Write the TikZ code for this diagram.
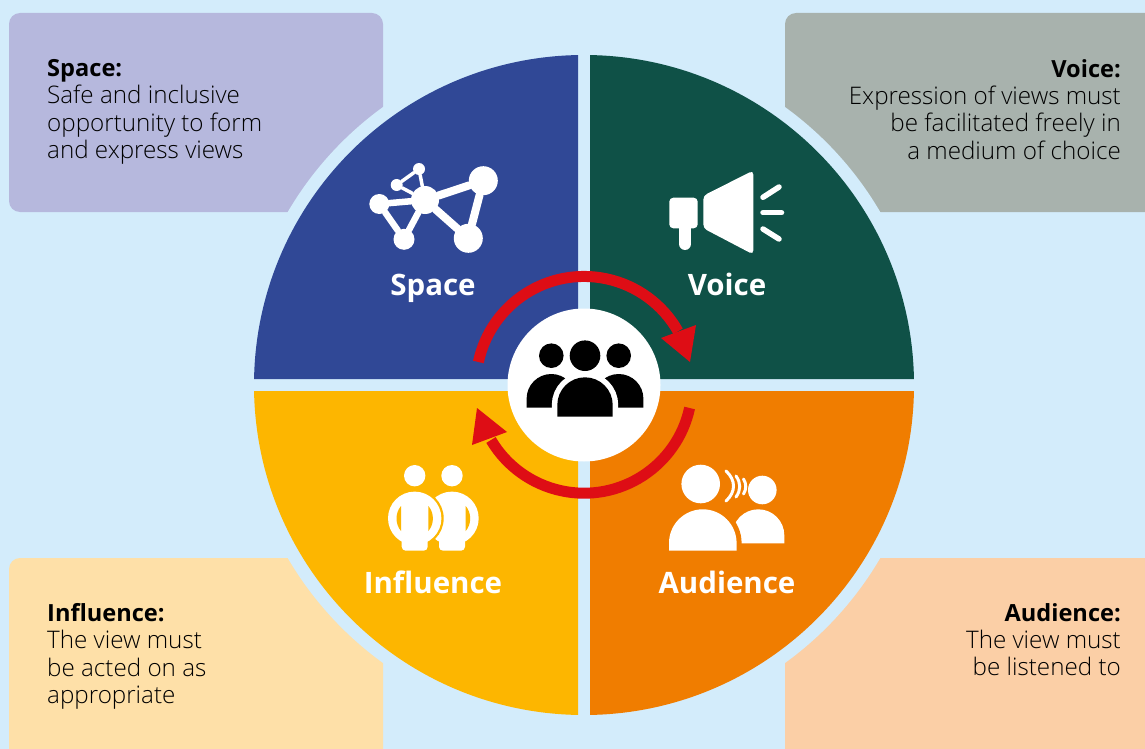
\documentclass[tikz,border=0pt]{standalone}
\usepackage{fontspec}
\setmainfont{Open Sans}[UprightFont=* Light, BoldFont=* Bold]
\newcommand{\calloutHead}[1]{{\fontsize{23.6}{27.4}\selectfont\bfseries #1}}
\definecolor{page_bg}{HTML}{D3ECFB}
\definecolor{space_col}{HTML}{304896}
\definecolor{voice_col}{HTML}{0F5147}
\definecolor{influence_col}{HTML}{FDB600}
\definecolor{audience_col}{HTML}{F07D00}
\definecolor{space_tint}{HTML}{B6B8DD}
\definecolor{voice_tint}{HTML}{A8B2AD}
\definecolor{influence_tint}{HTML}{FEE0A8}
\definecolor{audience_tint}{HTML}{FBCFA6}
\definecolor{cycle_red}{HTML}{DE0D15}
\tikzset{
        % Callout texts
        callout_left/.style={align=left, inner sep=0pt, anchor=north west, font=\fontsize{24.2}{27.4}\selectfont},
        callout_right/.style={align=right, inner sep=0pt, anchor=north east, font=\fontsize{24.2}{27.4}\selectfont},
        % Callout boxes
        callout_box/.style={rounded corners=11pt},
        % Names in the quarters
        quarter_label/.style={white, inner sep=0pt, anchor=base, font=\fontsize{29.5}{32}\selectfont\bfseries},
        % Icon parts
        icon_dot/.style={circle, fill=white, inner sep=0pt},
        icon_line/.style={white, line cap=round},
        cycle_line/.style={cycle_red, line width=11pt}
}
\begin{document}
\begin{tikzpicture}[x=1pt, y=-1pt]
    \useasboundingbox (0,0) rectangle (1145,749);
    \clip (0,0) rectangle (1145,749);
    \fill[page_bg] (0,0) rectangle (1145,749);
    % callouts
    \fill[space_tint, callout_box] (9,13) rectangle (383,212);
    \fill[voice_tint, callout_box] (785,13) rectangle (1170,212);
    \fill[influence_tint, callout_box] (9,558) rectangle (383,780);
    \fill[audience_tint, callout_box] (785,558) rectangle (1170,780);
    \fill[page_bg] (584,385) circle (343);
    % quarters
    \fill[space_col] (578,379) -- (254.05,379) arc[start angle=181.04, end angle=268.96, radius=330] -- cycle;
    \fill[voice_col] (590,379) -- (590,55.05) arc[start angle=271.04, end angle=358.96, radius=330] -- cycle;
    \fill[audience_col] (590,391) -- (913.95,391) arc[start angle=1.04, end angle=88.96, radius=330] -- cycle;
    \fill[influence_col] (578,391) -- (578,714.95) arc[start angle=91.04, end angle=178.96, radius=330] -- cycle;
    \node[quarter_label] (space_label) at (433,295) {Space};
    \node[quarter_label] (voice_label) at (727,295) {Voice};
    \node[quarter_label] (influence_label) at (433,593) {Influence};
    \node[quarter_label] (audience_label) at (727,593) {Audience};
    \node[callout_left] (space_text) at (47,59) {\calloutHead{Space:}\\Safe and inclusive\\opportunity to form\\and express views};
    \node[callout_right] (voice_text) at (1121,59) {\calloutHead{Voice:}\\Expression of views must\\be facilitated freely in\\a medium of choice};
    \node[callout_left] (influence_text) at (47,603) {\calloutHead{Influence:}\\The view must\\be acted on as\\appropriate};
    \node[callout_right] (audience_text) at (1121,603) {\calloutHead{Audience:}\\The view must\\be listened to};
    % space icon
    \node[icon_dot, minimum size=28pt] (net_hub) at (425,200) {};
    \node[icon_dot, minimum size=29pt] (net_a) at (483.3,180.7) {};
    \node[icon_dot, minimum size=29pt] (net_b) at (468.3,238.3) {};
    \node[icon_dot, minimum size=20pt] (net_c) at (379.3,204) {};
    \node[icon_dot, minimum size=21pt] (net_d) at (404,239.3) {};
    \node[icon_dot, minimum size=12pt] (net_e) at (419,169) {};
    \node[icon_dot, minimum size=12pt] (net_f) at (396.7,185) {};
    \draw[icon_line, line width=8pt] (net_hub) -- (net_a) -- (net_b) -- (net_hub);
    \draw[icon_line, line width=6.5pt] (net_hub) -- (net_c) -- (net_d) -- (net_hub);
    \draw[icon_line, line width=3.5pt] (net_hub) -- (net_e) -- (net_f) -- (net_hub);
    % voice icon
    \fill[white, rounded corners=4pt] (669.3,197.7) -- (697.7,197.7) -- (697.7,228.3) -- (669.3,228.3) -- cycle;
    \draw[icon_line, line width=12pt] (685,225) -- (685,244);
    \fill[white, rounded corners=4pt] (703.3,195.7) -- (753.3,170.5) -- (753.3,254.5) -- (703.3,228.3) -- cycle;
    \draw[icon_line, line width=5.5pt] (763,197.3) -- (779,187);
    \draw[icon_line, line width=5.5pt] (763,212.7) -- (781.5,212.7);
    \draw[icon_line, line width=5.5pt] (763,229) -- (779,239);
    % influence icon
    \node[icon_dot, minimum size=21.4pt] (left_head) at (414.7,475.7) {};
    \node[icon_dot, minimum size=21.4pt] (right_head) at (452,475.7) {};
    \fill[white] (452,518.3) circle (26.7);
    \fill[white, rounded corners=4pt] (439,530) rectangle (465,550.7);
    \fill[influence_col] (414.7,518.3) circle (29);
    \fill[white] (414.7,518.3) circle (26.7);
    \fill[white, rounded corners=4pt] (401.7,530) rectangle (427.7,550.7);
    \fill[influence_col] (401,506) .. controls (395,513) and (395,524) .. (401,531) -- cycle;
    \fill[influence_col] (428.4,506) .. controls (434.4,513) and (434.4,524) .. (428.4,531) -- cycle;
    \fill[influence_col] (465.7,506) .. controls (471.7,513) and (471.7,524) .. (465.7,531) -- cycle;
    % audience icon
    \node[icon_dot, minimum size=38.6pt] (speaker_head) at (700.7,484) {};
    \node[icon_dot, minimum size=28.6pt] (hearer_head) at (762.3,490) {};
    \fill[white] (732.3,543.3) -- (732.3,535.3) arc[start angle=180, end angle=360, radius=26] -- (784.3,543.3) -- cycle;
    \fill[white, draw=audience_col, line width=10pt] (669,550.7) -- (669,543.1) arc[start angle=180, end angle=360, radius=33.8] -- (736.6,550.7) -- cycle;
    \fill[white] (669,550.7) -- (669,543.1) arc[start angle=180, end angle=360, radius=33.8] -- (736.6,550.7) -- cycle;
    \draw[icon_line, line width=3pt] (726,471) .. controls (736,480) and (736,492) .. (726,501);
    \draw[icon_line, line width=3pt] (736,476) .. controls (741,483) and (741,490) .. (736,497);
    \draw[icon_line, line width=3pt] (743.5,479) .. controls (746.5,484) and (746.5,489) .. (743.5,494);
    % cycle arrows
    \draw[cycle_line] (478.4,362) arc[start angle=-168, end angle=-29.5, radius=108];
    \fill[cycle_red] (690,362) -- (661,338) -- (696,325) -- cycle;
    \draw[cycle_line] (689.6,408) arc[start angle=12.2, end angle=149.5, radius=108];
    \fill[cycle_red] (477,408) -- (472,445) -- (507,432) -- cycle;
    % middle
    \node[circle, fill=white, minimum size=153pt, inner sep=0pt] (people_circle) at (584,385) {};
    \node[circle, fill=black, minimum size=24.6pt, inner sep=0pt] (left_person) at (551.3,355.7) {};
    \node[circle, fill=black, minimum size=24.6pt, inner sep=0pt] (right_person) at (618.7,355.7) {};
    \node[circle, fill=black, minimum size=30.6pt, inner sep=0pt] (mid_person) at (585,355.7) {};
    \fill[black] (526.6,407.7) -- (526.6,398.7) arc[start angle=180, end angle=360, radius=24.7] -- (576,407.7) -- cycle;
    \fill[black] (594,407.7) -- (594,398.7) arc[start angle=180, end angle=360, radius=24.7] -- (643.4,407.7) -- cycle;
    \fill[black, draw=white, line width=11pt] (557.3,416.7) -- (557.3,405) arc[start angle=180, end angle=360, radius=27.7] -- (612.7,416.7) -- cycle;
    \fill[black] (557.3,416.7) -- (557.3,405) arc[start angle=180, end angle=360, radius=27.7] -- (612.7,416.7) -- cycle;
\end{tikzpicture}
\end{document}
